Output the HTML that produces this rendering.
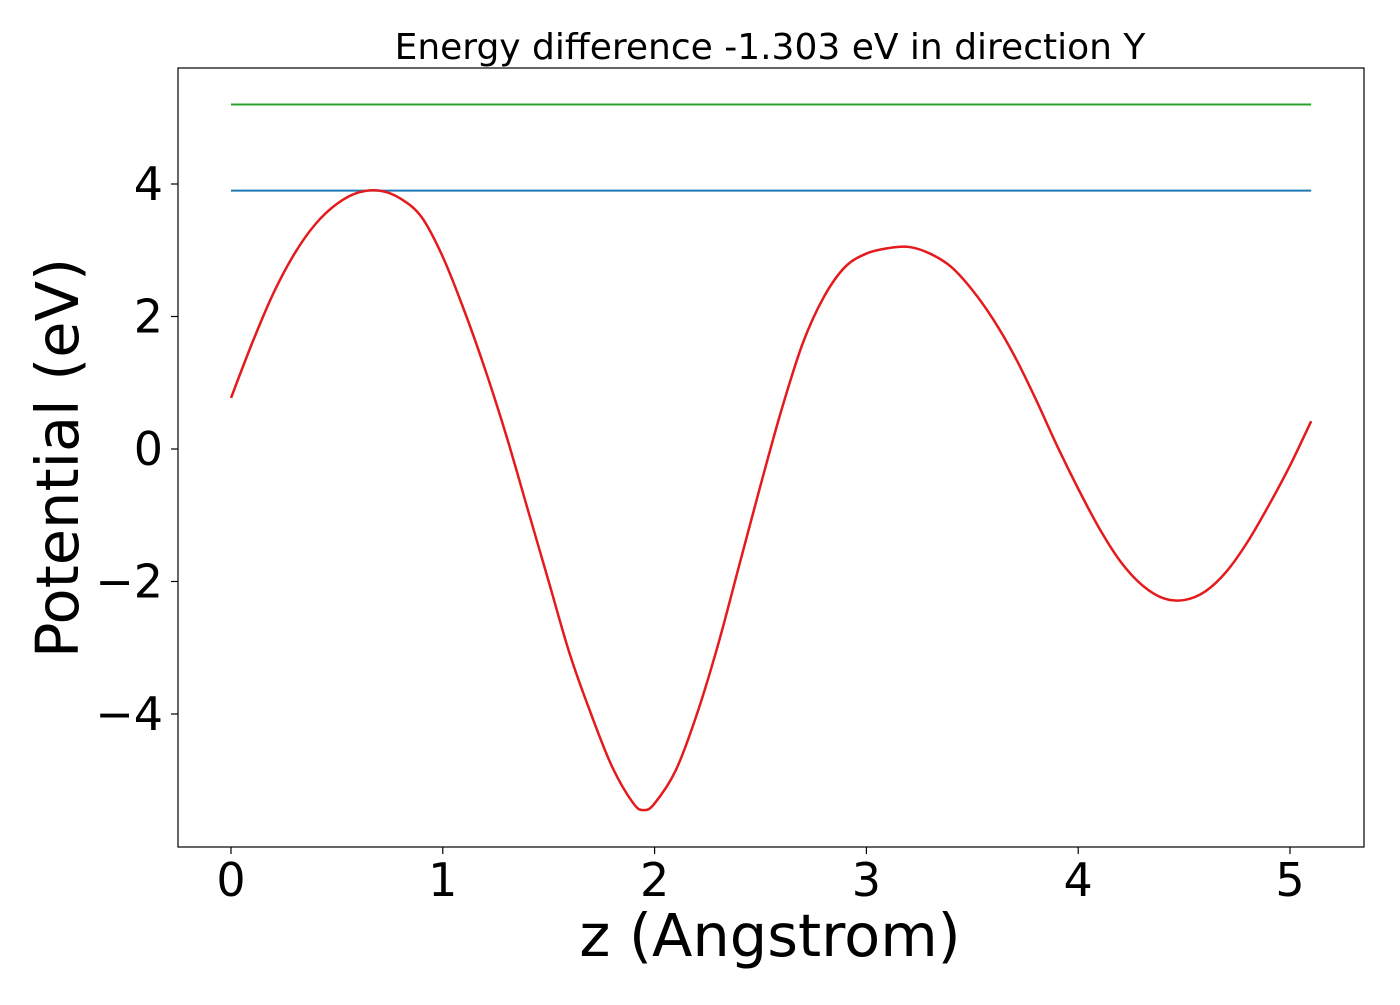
<!DOCTYPE html>
<html><head><meta charset="utf-8"><style>
body{margin:0;background:#fff;}
svg text{font-family:"DejaVu Sans","Liberation Sans",sans-serif;fill:#000;}
</style></head><body>
<svg id="chart" width="1400" height="1000" xmlns="http://www.w3.org/2000/svg">
<rect width="1400" height="1000" fill="#fff"/>
<text x="770" y="59" font-size="36" text-anchor="middle">Energy difference -1.303 eV in direction Y</text>
<g id="plot"></g>
<rect x="178" y="68" width="1186" height="779" fill="none" stroke="#000" stroke-width="1.2"/>
<text x="770" y="956" font-size="59" text-anchor="middle">z (Angstrom)</text>
<text transform="translate(78,458) rotate(-90)" font-size="59" text-anchor="middle">Potential (eV)</text>
</svg>
<script>
const xs=[0,0.1,0.2,0.3,0.4,0.5,0.6,0.7,0.8,0.9,1.0,1.1,1.2,1.3,1.4,1.5,1.6,1.7,1.8,1.9,1.95,2.0,2.1,2.2,2.3,2.4,2.5,2.6,2.7,2.8,2.9,3.0,3.1,3.2,3.3,3.4,3.5,3.6,3.7,3.8,3.9,4.0,4.1,4.2,4.3,4.4,4.5,4.6,4.7,4.8,4.9,5.0,5.1];
const potential=[0.77,1.6,2.35,2.95,3.4,3.7,3.87,3.9,3.78,3.5,2.9,2.1,1.2,0.2,-0.9,-2.0,-3.1,-4.0,-4.8,-5.35,-5.45,-5.35,-4.85,-4.0,-2.95,-1.75,-0.55,0.6,1.6,2.3,2.75,2.95,3.03,3.05,2.95,2.75,2.4,1.95,1.4,0.75,0.05,-0.6,-1.2,-1.7,-2.05,-2.25,-2.28,-2.15,-1.85,-1.4,-0.85,-0.25,0.42];
const levels=[5.2,3.9];
const levelColors=["#2ca02c","#1f77b4"];
const xTicks=[0,1,2,3,4,5];
const yTicks=[-4,-2,0,2,4];
const yTickLabels=["\u22124","\u22122","0","2","4"];
const X=v=>231+v*211.8, Y=v=>449-v*66.25;
const ns="http://www.w3.org/2000/svg", g=document.getElementById('plot'), svg=document.getElementById('chart');
function mk(t,a,p){const e=document.createElementNS(ns,t);for(const k in a)e.setAttribute(k,a[k]);(p||g).appendChild(e);return e;}
levels.forEach((l,i)=>{const e=mk('line',{x1:X(xs[0]),x2:X(xs[xs.length-1]),y1:Y(l),y2:Y(l),stroke:levelColors[i],'stroke-width':2});

});
const pts=xs.map((x,i)=>[X(x),Y(potential[i])]);
let d='M'+pts[0][0]+','+pts[0][1];
for(let i=0;i<pts.length-1;i++){const p0=pts[Math.max(0,i-1)],p1=pts[i],p2=pts[i+1],p3=pts[Math.min(pts.length-1,i+2)];
const c1=[p1[0]+(p2[0]-p0[0])/6,p1[1]+(p2[1]-p0[1])/6],c2=[p2[0]-(p3[0]-p1[0])/6,p2[1]-(p3[1]-p1[1])/6];
d+=' C'+c1[0]+','+c1[1]+' '+c2[0]+','+c2[1]+' '+p2[0]+','+p2[1];}
const p=mk('path',{d:d,fill:'none',stroke:'#e41a1c','stroke-width':2.5});


xTicks.forEach(t=>{mk('line',{x1:X(t),x2:X(t),y1:847,y2:854,stroke:'#000','stroke-width':1.2},svg);
const e=mk('text',{x:X(t),y:896,'font-size':46,'text-anchor':'middle'},svg);e.textContent=t;

});
yTicks.forEach((t,i)=>{mk('line',{x1:171,x2:178,y1:Y(t),y2:Y(t),stroke:'#000','stroke-width':1.2},svg);
const e=mk('text',{x:163,y:Y(t)+16,'font-size':46,'text-anchor':'end'},svg);e.textContent=yTickLabels[i];

});
</script>
</body></html>
